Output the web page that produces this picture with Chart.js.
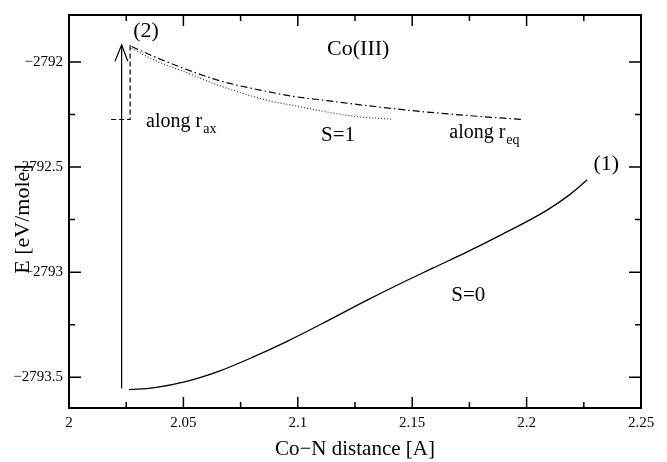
<!DOCTYPE html>
<html>
<head>
<meta charset="utf-8">
<script src="https://cdn.jsdelivr.net/npm/chart.js@4.4.1/dist/chart.umd.min.js"></script>
<style>
  html, body { margin: 0; padding: 0; background: #fff; }
  #wrap { width: 667px; height: 462px; position: relative; }
</style>
</head>
<body>
<div id="wrap"><canvas id="c"></canvas></div>
<script>
// ---- data ----
const s0X = [2.0262, 2.0368, 2.0514, 2.0660, 2.0806, 2.0951, 2.1097, 2.1301, 2.1447, 2.1592, 2.1738, 2.1884, 2.2088, 2.2190, 2.2265];
const s0E = [-2793.559, -2793.550, -2793.519, -2793.469, -2793.403, -2793.330, -2793.250, -2793.134, -2793.055, -2792.980, -2792.905, -2792.825, -2792.706, -2792.630, -2792.561];

const s1X = [2.0274, 2.0368, 2.0514, 2.0660, 2.0871, 2.0980, 2.1126, 2.1272, 2.1410];
const s1E = [-2791.935, -2791.989, -2792.051, -2792.114, -2792.184, -2792.207, -2792.238, -2792.262, -2792.272];

const eqX = [2.0274, 2.0368, 2.0514, 2.0660, 2.0871, 2.0980, 2.1126, 2.1272, 2.1483, 2.1731, 2.1986];
const eqE = [-2791.927, -2791.973, -2792.036, -2792.090, -2792.142, -2792.164, -2792.184, -2792.204, -2792.230, -2792.254, -2792.274];

const axX = [2.0184, 2.0267, 2.0267, 2.0274];
const axE = [-2792.274, -2792.274, -2791.923, -2791.927];

const arrowX = [2.0230, 2.0230];
const arrowE = [-2793.553, -2791.919];
const headX = [2.0201, 2.0230, 2.0257];
const headE = [-2791.997, -2791.919, -2791.997];

const xTicks = [2, 2.05, 2.1, 2.15, 2.2, 2.25];
const xTickLabels = ["2", "2.05", "2.1", "2.15", "2.2", "2.25"];
const xMinor = [2.025, 2.075, 2.125, 2.175, 2.225];
const yTicks = [-2793.5, -2793, -2792.5, -2792];
const yTickLabels = ["\u22122793.5", "\u22122793", "\u22122792.5", "\u22122792"];
const yMinor = [-2793.25, -2792.75, -2792.25];

const xRange = [2, 2.25];
const yRange = [-2793.646, -2791.777];

// annotation texts: [text, subscript, x, E, align, size]
const labels = [
  ["(2)", "", 2.0337, -2791.852, "center", 22],
  ["Co(III)", "", 2.1264, -2791.941, "center", 22],
  ["along r", "ax", 2.0337, -2792.308, "left", 20],
  ["S=1", "", 2.1176, -2792.352, "center", 21],
  ["along r", "eq", 2.1662, -2792.363, "left", 20],
  ["(1)", "", 2.2348, -2792.487, "center", 22],
  ["S=0", "", 2.1745, -2793.110, "center", 21]
];

const xTitle = "Co\u2212N distance [A]";
const yTitle = "E [eV/mole]";

const FONT = "'Liberation Serif', 'Times New Roman', serif";

function pts(xs, ys) { return xs.map((x, i) => ({ x: x, y: ys[i] })); }

const deco = {
  id: 'deco',
  afterDraw(chart) {
    const ctx = chart.ctx;
    const a = chart.chartArea;
    const xs = chart.scales.x, ys = chart.scales.y;
    ctx.save();
    ctx.strokeStyle = '#000';
    ctx.lineWidth = 2;
    ctx.strokeRect(a.left, a.top, a.right - a.left, a.bottom - a.top);
    ctx.lineWidth = 1.5;
    const tick = (vals, len, axis) => {
      vals.forEach(v => {
        ctx.beginPath();
        if (axis === 'x') {
          const p = xs.getPixelForValue(v);
          ctx.moveTo(p, a.bottom); ctx.lineTo(p, a.bottom - len);
          ctx.moveTo(p, a.top); ctx.lineTo(p, a.top + len);
        } else {
          const p = ys.getPixelForValue(v);
          ctx.moveTo(a.left, p); ctx.lineTo(a.left + len, p);
          ctx.moveTo(a.right, p); ctx.lineTo(a.right - len, p);
        }
        ctx.stroke();
      });
    };
    tick(xTicks, 11, 'x');
    tick(xMinor, 6, 'x');
    tick(yTicks, 12, 'y');
    tick(yMinor, 6, 'y');

    ctx.fillStyle = '#000';
    labels.forEach(([t, sub, x, e, align, size]) => {
      const px = xs.getPixelForValue(x);
      const py = ys.getPixelForValue(e);
      ctx.font = size + 'px ' + FONT;
      if (sub) {
        ctx.textAlign = 'left';
        ctx.textBaseline = 'alphabetic';
        ctx.fillText(t, px, py);
        const w = ctx.measureText(t).width;
        ctx.font = '14px ' + FONT;
        ctx.fillText(sub, px + w + 1, py + 6);
      } else {
        ctx.textAlign = align;
        ctx.textBaseline = 'middle';
        ctx.fillText(t, px, py);
      }
    });

    ctx.textAlign = 'center';
    ctx.textBaseline = 'middle';
    ctx.font = '21px ' + FONT;
    ctx.fillText(xTitle, (a.left + a.right) / 2, 449);
    ctx.font = '22px ' + FONT;
    ctx.save();
    ctx.translate(23, 219);
    ctx.rotate(-Math.PI / 2);
    ctx.fillText(yTitle, 0, 0);
    ctx.restore();
    ctx.restore();
  }
};

const lineDs = (data, dash, width, color) => ({
  data: data,
  showLine: true,
  borderColor: color || '#000',
  borderWidth: width,
  borderDash: dash,
  pointRadius: 0,
  fill: false,
  cubicInterpolationMode: 'monotone'
});

new Chart(document.getElementById('c'), {
  type: 'scatter',
  data: {
    datasets: [
      lineDs(pts(s0X, s0E), [], 1.3),
      lineDs(pts(s1X, s1E), [1, 2], 1.2, '#333'),
      lineDs(pts(eqX, eqE), [7, 3, 1.5, 3], 1.2),
      Object.assign(lineDs(pts(axX, axE), [5, 3], 1.2), { cubicInterpolationMode: 'default', tension: 0 }),
      Object.assign(lineDs(pts(arrowX, arrowE), [], 1.2), { tension: 0 }),
      Object.assign(lineDs(pts(headX, headE), [], 1.2), { cubicInterpolationMode: 'default', tension: 0 })
    ]
  },
  options: {
    responsive: true,
    maintainAspectRatio: false,
    animation: false,
    events: [],
    layout: { padding: { left: 0, top: 8, right: 26, bottom: 0 } },
    plugins: { legend: { display: false }, tooltip: { enabled: false } },
    scales: {
      x: {
        type: 'linear',
        min: xRange[0], max: xRange[1],
        grid: { display: false, drawTicks: false },
        border: { display: false },
        afterFit: s => { s.height = 54; },
        afterBuildTicks: s => { s.ticks = xTicks.map(v => ({ value: v })); },
        ticks: {
          autoSkip: false, maxRotation: 0, padding: 6, color: '#000',
          font: { family: FONT, size: 15 },
          callback: (v, i) => xTickLabels[i]
        }
      },
      y: {
        type: 'linear',
        min: yRange[0], max: yRange[1],
        grid: { display: false, drawTicks: false },
        border: { display: false },
        afterFit: s => { s.width = 69; },
        afterBuildTicks: s => { s.ticks = yTicks.map(v => ({ value: v })); },
        ticks: {
          autoSkip: false, padding: 6, color: '#000',
          font: { family: FONT, size: 15 },
          callback: (v, i) => yTickLabels[i]
        }
      }
    }
  },
  plugins: [deco]
});
</script>
</body>
</html>
